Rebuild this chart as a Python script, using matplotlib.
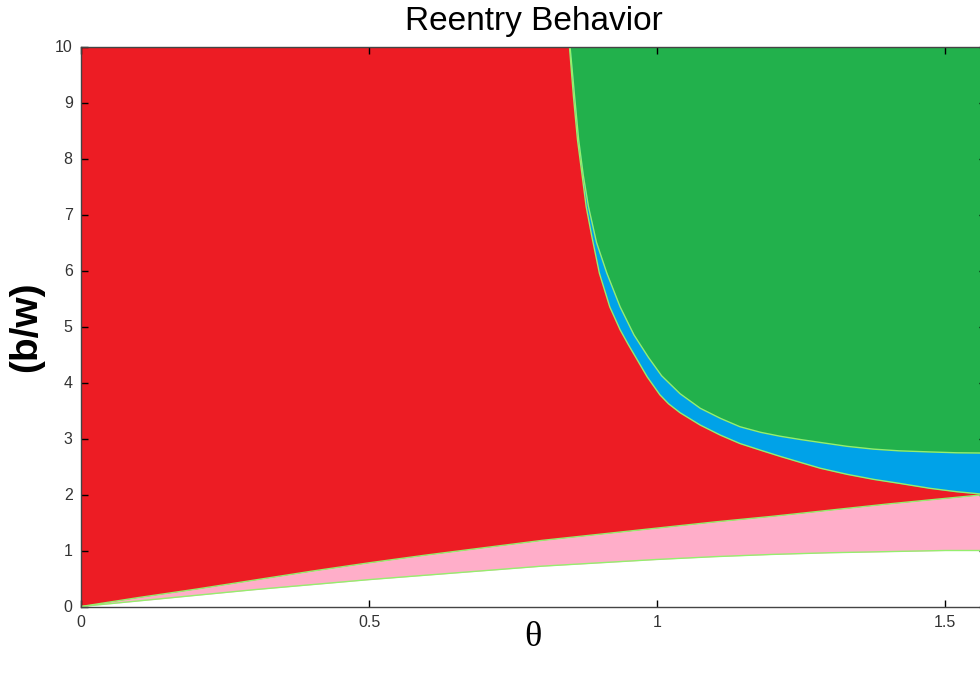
import matplotlib
matplotlib.use("Agg")
import matplotlib.pyplot as plt

# boundary readings (theta in rad, b/w)
theta = [0.0, 0.1, 0.2, 0.3, 0.4, 0.5, 0.6, 0.7, 0.8, 0.9, 1.0,
         1.1, 1.2, 1.3, 1.4, 1.5, 1.5708]
lower_edge = [0.0, 0.10, 0.20, 0.30, 0.39, 0.48, 0.56, 0.64, 0.72, 0.78, 0.84,
              0.89, 0.93, 0.96, 0.98, 1.00, 1.00]
pink_top = [0.0, 0.16, 0.31, 0.47, 0.63, 0.78, 0.92, 1.05, 1.18, 1.29, 1.40,
            1.51, 1.61, 1.72, 1.83, 1.93, 2.00]

theta_red = [0.848, 0.855, 0.862, 0.870, 0.877, 0.887, 0.900, 0.918, 0.936, 0.950,
             0.983, 1.005, 1.020, 1.040, 1.075, 1.110, 1.144, 1.180, 1.214, 1.250,
             1.283, 1.330, 1.376, 1.420, 1.474, 1.520, 1.5708]
red_top = [10.0, 9.10, 8.33, 7.70, 7.14, 6.60, 5.95, 5.35, 4.94, 4.68,
           4.10, 3.78, 3.62, 3.46, 3.24, 3.06, 2.91, 2.79, 2.68, 2.57,
           2.47, 2.36, 2.27, 2.20, 2.11, 2.05, 2.00]

theta_green = [0.849, 0.857, 0.864, 0.872, 0.881, 0.895, 0.913, 0.936, 0.960, 0.985,
               1.008, 1.040, 1.075, 1.110, 1.144, 1.180, 1.214, 1.250, 1.283, 1.330,
               1.376, 1.420, 1.474, 1.520, 1.5708]
green_bottom = [10.0, 9.10, 8.33, 7.70, 7.14, 6.50, 5.95, 5.35, 4.85, 4.45,
                4.12, 3.80, 3.54, 3.36, 3.21, 3.11, 3.04, 2.98, 2.93, 2.86,
                2.81, 2.78, 2.76, 2.745, 2.74]

c_red = "#ED1C24"
c_pink = "#FFAEC9"
c_blue = "#00A2E8"
c_green = "#22B14C"
c_edge = "#95ee6e"

fig = plt.figure(figsize=(9.8, 6.75), dpi=100, facecolor="white")
ax = fig.add_axes([81/980, 1 - 606.5/675, (985.8 - 81)/980, 560/675])

ax.fill_between(theta, pink_top, 10, color=c_red, lw=0)
ax.fill_between(theta, lower_edge, pink_top, color=c_pink, lw=0)
ax.fill_between(theta_red, red_top, 10, color=c_blue, lw=0)
ax.fill_between(theta_green, green_bottom, 10, color=c_green, lw=0)

ax.plot(theta, lower_edge, color=c_edge, lw=1)
ax.plot(theta, pink_top, color=c_edge, lw=1)
ax.plot(theta_red, red_top, color=c_edge, lw=1)
ax.plot(theta_green, green_bottom, color=c_edge, lw=1)

ax.set_xlim(0, 1.5708)
ax.set_ylim(0, 10)
ax.set_xticks([0, 0.5, 1, 1.5])
ax.set_xticklabels(["0", "0.5", "1", "1.5"])
ax.set_yticks(range(0, 11))
ax.tick_params(direction="in", length=5, width=1, colors="black",
               top=True, right=True, labelcolor="#333333", pad=6)
for lab in ax.get_xticklabels() + ax.get_yticklabels():
    lab.set_family(["Liberation Sans Narrow", "Liberation Sans"])
    lab.set_fontsize(11.5)
for sp in ax.spines.values():
    sp.set_color("#444444")
    sp.set_linewidth(1)

ax.set_title("Reentry Behavior", fontsize=24, family="Liberation Sans", pad=12)
ax.set_ylabel("(b/w)", fontsize=28, fontweight="bold", family="Liberation Sans", labelpad=8)
ax.set_xlabel("\u03b8", fontsize=26, family="Liberation Serif", labelpad=-6)

fig.savefig("out.png", dpi=100)
